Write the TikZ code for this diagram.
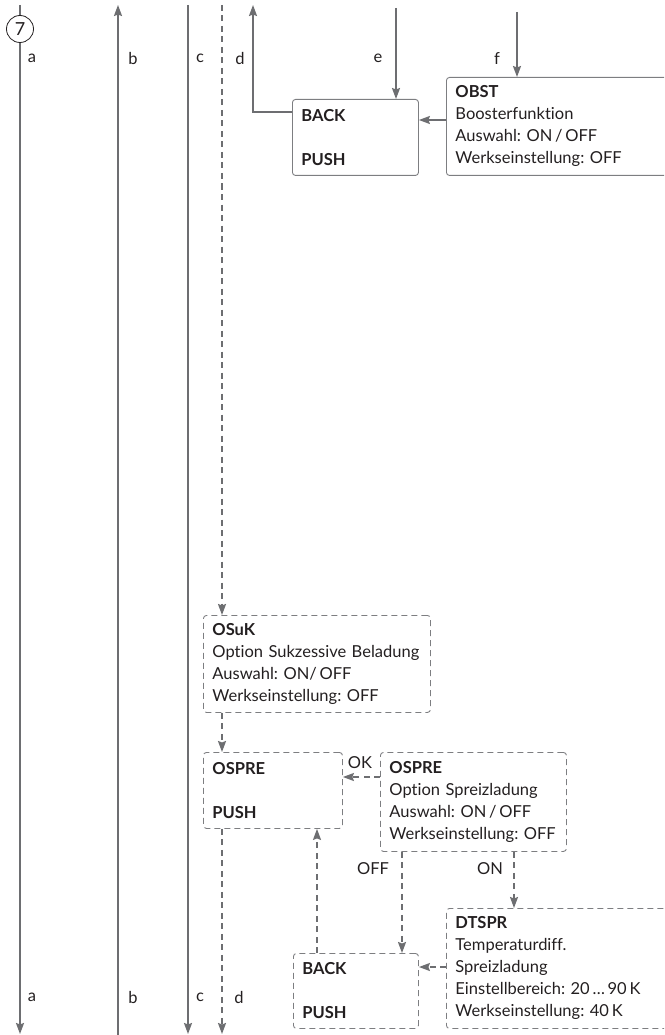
\documentclass[tikz,border=0pt]{standalone}
\usepackage{fontspec}
\setmainfont{Lato}[Ligatures=NoCommon]
\usetikzlibrary{arrows.meta,calc}
\definecolor{lgray}{HTML}{6D6E71}
\definecolor{bgray}{HTML}{7D7E81}
\definecolor{tblack}{HTML}{231F20}
\newcommand{\boxfont}{\fontsize{16.5}{22}\selectfont\frenchspacing}
\begin{document}
\begin{tikzpicture}[x=1pt,y=-1pt,
  >={Stealth[length=11pt,width=8pt,inset=1.5pt]},
  conn/.style={draw=lgray,line width=1.8pt},
  dconn/.style={draw=lgray,line width=1.6pt,dash pattern=on 6pt off 4.5pt},
  box/.style={draw=bgray,line width=0.9pt,rounded corners=3pt,anchor=north west,
    inner xsep=9pt,inner ysep=0pt,align=left,font=\boxfont,text=tblack},
  dbox/.style={box,dash pattern=on 6pt off 4pt},
  lbl/.style={font=\boxfont,text=tblack,inner sep=0pt},
  num/.style={circle,draw=tblack,line width=0.8pt,fill=white,minimum size=27pt,
    inner sep=0pt,font=\fontsize{18}{22}\selectfont,text=tblack}]
\useasboundingbox (0,0) rectangle (664,1035);
\begin{scope}
\clip (0,0) rectangle (664,1035);
% coordinates
\coordinate (aTop) at (20,5);
\coordinate (aBot) at (20,1034);
\coordinate (bTop) at (118,5);
\coordinate (bBot) at (118,1035);
\coordinate (cTop) at (188,5);
\coordinate (cBot) at (188,1034);
\coordinate (dTop) at (222,5);
\coordinate (dBot) at (222,1034);
\coordinate (dUp) at (253,5);
\coordinate (eTop) at (396,8);
\coordinate (fTop) at (517,12);
% boxes
\node[box,text width=108pt,minimum height=76pt] (back1) at (292,99)
  {\textbf{BACK}\\[22pt]\textbf{PUSH}};
\node[box,text width=212pt,minimum height=98pt] (obst) at (446,77)
  {\textbf{OBST}\\Boosterfunktion\\Auswahl: ON\,/\,OFF\\Werkseinstellung: OFF};
\node[dbox,text width=209pt,minimum height=97pt] (osuk) at (203,615)
  {\textbf{OSuK}\\Option Sukzessive Beladung\\Auswahl: ON/\,OFF\\Werkseinstellung: OFF};
\node[dbox,text width=121pt,minimum height=76pt] (ospre1) at (203,752)
  {\textbf{OSPRE}\\[22pt]\textbf{PUSH}};
\node[dbox,text width=168pt,minimum height=99pt] (ospre2) at (380,752)
  {\textbf{OSPRE}\\Option Spreizladung\\Auswahl: ON\,/\,OFF\\Werkseinstellung: OFF};
\node[dbox,text width=107pt,minimum height=75pt] (back2) at (293,953)
  {\textbf{BACK}\\[22pt]\textbf{PUSH}};
\node[dbox,text width=212pt,minimum height=120pt] (dtspr) at (446,908)
  {\textbf{DTSPR}\\Temperaturdiff.\\Spreizladung\\Einstellbereich: 20\,\dots\,90\,K\\Werkseinstellung: 40\,K};
% circle 7
\node[num] (c7) at (20,29) {7};
% main vertical lines
\draw[conn] (aTop) -- (c7);
\draw[conn,->] (c7) -- (aBot);
\draw[conn,<-] (bTop) -- (bBot);
\draw[conn,->] (cTop) -- (cBot);
\draw[dconn,->] (dTop) -- (dTop |- osuk.north);
\draw[dconn,->] (dTop |- osuk.south) -- (dTop |- ospre1.north);
\draw[dconn,->] (dTop |- ospre1.south) -- (dBot);
% top part
\draw[conn,->] (eTop) -- (eTop |- back1.north);
\draw[conn,->] (fTop) -- (fTop |- obst.north);
\coordinate (obY) at (0,120);
\draw[conn,->] (obst.west |- obY) -- (back1.east |- obY);
\coordinate (bkY) at (0,112);
\draw[conn,->] (back1.west |- bkY) -- (dUp |- bkY) -- (dUp);
% OSPRE part
\coordinate (okY) at (0,777);
\draw[dconn,->] (ospre2.west |- okY) -- (ospre1.east |- okY);
\coordinate (offX) at (402,0);
\draw[dconn,->] (offX |- ospre2.south) -- (offX |- back2.north);
\coordinate (onX) at (514,0);
\draw[dconn,->] (onX |- ospre2.south) -- (onX |- dtspr.north);
\coordinate (upX) at (317,0);
\draw[dconn,->] (upX |- back2.north) -- (upX |- ospre1.south);
\coordinate (dtY) at (0,967);
\draw[dconn,->] (dtspr.west |- dtY) -- (back2.east |- dtY);
% labels
\node[lbl] (la1) at (32,58) {a};
\node[lbl] (lb1) at (133,58) {b};
\node[lbl] (lc1) at (200,58) {c};
\node[lbl] (ld1) at (240,58) {d};
\node[lbl] (le1) at (378,58) {e};
\node[lbl] (lf1) at (497,59) {f};
\node[lbl] (la2) at (32,997) {a};
\node[lbl] (lb2) at (133,997) {b};
\node[lbl] (lc2) at (200,997) {c};
\node[lbl] (ld2) at (239,997) {d};
\node[lbl] (lok) at (360,763) {OK};
\node[lbl] (loff) at (373,869) {OFF};
\node[lbl] (lon) at (490,869) {ON};
\end{scope}
\end{tikzpicture}
\end{document}
